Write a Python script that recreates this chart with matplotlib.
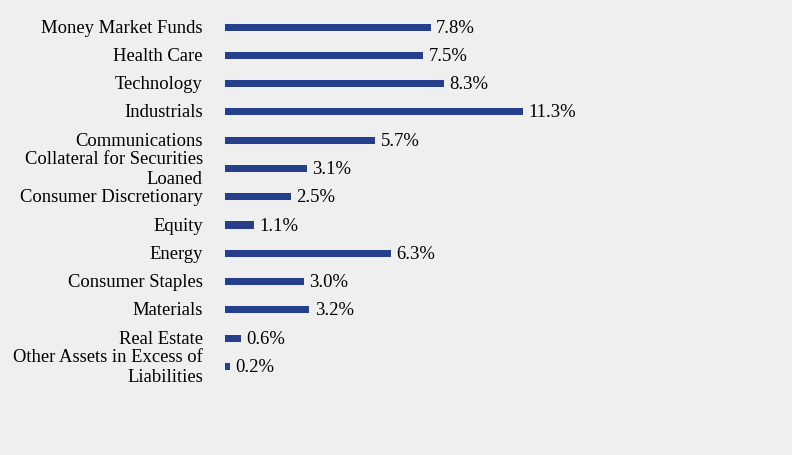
import matplotlib.pyplot as plt

# sector weights, top to bottom
categories = ["Money Market Funds", "Health Care", "Technology", "Industrials",
              "Communications", "Collateral for Securities\nLoaned",
              "Consumer Discretionary", "Equity", "Energy", "Consumer Staples",
              "Materials", "Real Estate", "Other Assets in Excess of\nLiabilities"]
values = [7.8, 7.5, 8.3, 11.3, 5.7, 3.1, 2.5, 1.1, 6.3, 3.0, 3.2, 0.6, 0.2]

bg = "#efefef"
bar_color = "#253f8c"

plt.rcParams['font.family'] = ['Liberation Serif', 'DejaVu Serif']

fig = plt.figure(figsize=(7.92, 4.56), dpi=100, facecolor=bg)
ax = fig.add_axes([225 / 792, 1 - 381.5 / 456, 528 / 792, 367.5 / 456])
ax.set_facecolor(bg)

pos = list(range(len(categories)))
ax.barh(pos, values, height=0.25, color=bar_color)
for p, v in zip(pos, values):
    ax.text(v + 0.2, p, f"{v:.1f}%", va="center", ha="left", fontsize=13.4)

ax.set_ylim(len(categories) - 0.5, -0.5)
ax.set_xlim(0, 20)
ax.set_yticks(pos)
ax.set_yticklabels(categories, fontsize=13.4)
for lbl in ax.get_yticklabels():
    lbl.set_va("center")
    lbl.set_linespacing(1.2)
ax.tick_params(axis="y", length=0, pad=16)
ax.set_xticks([])
for s in ax.spines.values():
    s.set_visible(False)

fig.savefig("out.png", dpi=100, facecolor=bg)
